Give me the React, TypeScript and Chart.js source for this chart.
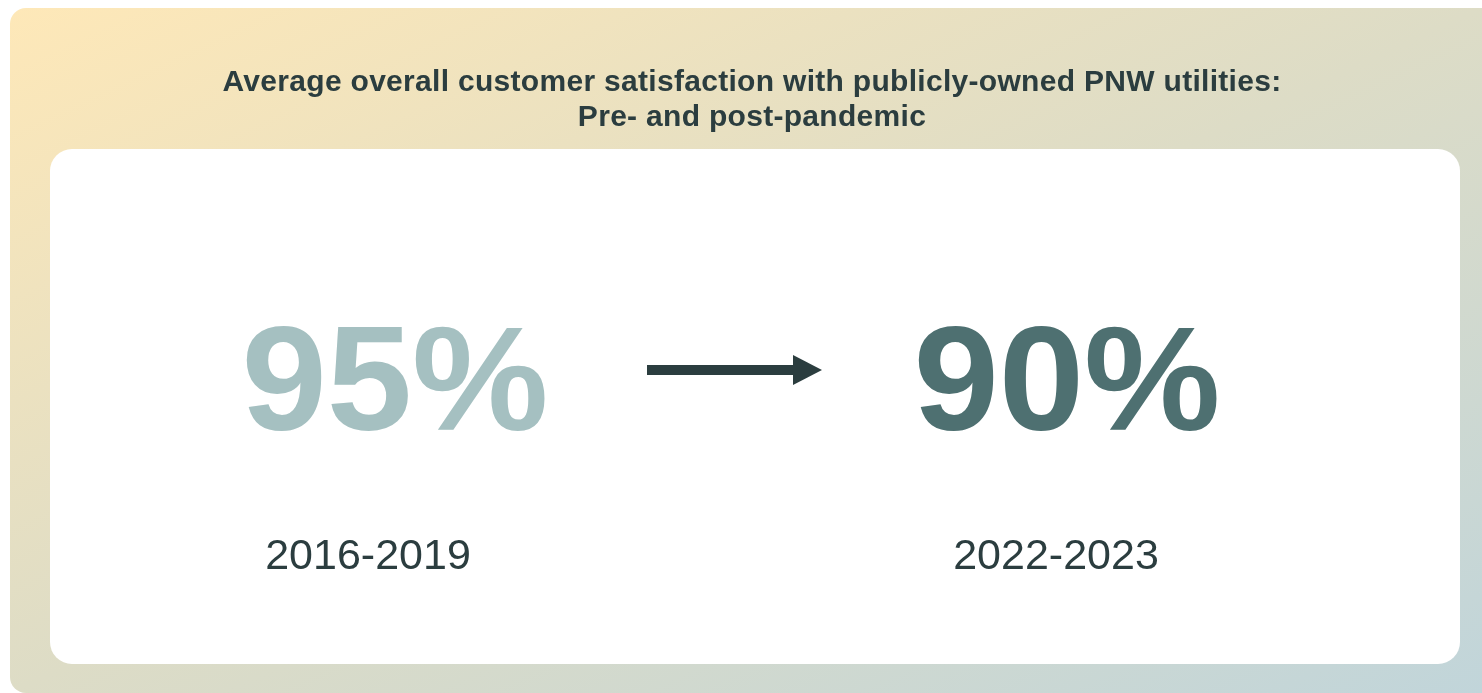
import React, { useEffect, useRef } from "react";
import { Chart, registerables } from "chart.js";

Chart.register(...registerables);

const periods: string[] = ["2016-2019", "2022-2023"];
const satisfaction: number[] = [95, 90];
const valueColors: string[] = ["#a5c0c1", "#4e7071"];
const titleLines: string[] = [
  "Average overall customer satisfaction with publicly-owned PNW utilities:",
  "Pre- and post-pandemic",
];

const W = 1482;
const H = 693;
const FONT = '"Liberation Sans", Arial, Helvetica, sans-serif';
const DARK = "#2b3d3f";

function roundRectPath(ctx: CanvasRenderingContext2D, x: number, y: number, w: number, h: number, r: number) {
  ctx.beginPath();
  ctx.moveTo(x + r, y);
  ctx.lineTo(x + w - r, y);
  ctx.arcTo(x + w, y, x + w, y + r, r);
  ctx.lineTo(x + w, y + h - r);
  ctx.arcTo(x + w, y + h, x + w - r, y + h, r);
  ctx.lineTo(x + r, y + h);
  ctx.arcTo(x, y + h, x, y + h - r, r);
  ctx.lineTo(x, y + r);
  ctx.arcTo(x, y, x + r, y, r);
  ctx.closePath();
}

const panelPlugin = {
  id: "panel",
  beforeDraw(chart: any) {
    const ctx: CanvasRenderingContext2D = chart.ctx;
    ctx.save();
    // "to bottom right" style gradient over the outer panel
    const bx = 10, by = 8, bw = 1472, bh = 685;
    const cx = bx + bw / 2, cy = by + bh / 2;
    const norm = Math.sqrt(bw * bw + bh * bh);
    const dx = bh / norm, dy = bw / norm;
    const L = (bw * bh) / norm;
    const g = ctx.createLinearGradient(cx - dx * L, cy - dy * L, cx + dx * L, cy + dy * L);
    g.addColorStop(0, "#fee8b8");
    g.addColorStop(0.5, "#dddcc6");
    g.addColorStop(1, "#c1d5da");
    ctx.fillStyle = g;
    roundRectPath(ctx, 10, 8, 1500, 685, 16);
    ctx.fill();
    ctx.fillStyle = "#ffffff";
    roundRectPath(ctx, 50, 149, 1410, 515, 22);
    ctx.fill();

    ctx.fillStyle = DARK;
    ctx.textAlign = "center";
    ctx.textBaseline = "alphabetic";
    ctx.font = `bold 30px ${FONT}`;
    (ctx as any).letterSpacing = "0.3px";
    ctx.fillText(titleLines[0], 752, 91);
    ctx.fillText(titleLines[1], 752, 126);
    (ctx as any).letterSpacing = "0px";
    ctx.restore();
  },
  afterDatasetsDraw(chart: any) {
    const ctx: CanvasRenderingContext2D = chart.ctx;
    const xs = chart.scales.x;
    const numOffsets = [27, 11];
    ctx.save();
    ctx.textAlign = "center";
    ctx.textBaseline = "alphabetic";
    const numX: number[] = [];
    satisfaction.forEach((v, i) => {
      const px = xs.getPixelForValue(i);
      const nx = px + numOffsets[i];
      numX.push(nx);
      ctx.save();
      ctx.translate(nx, 430);
      ctx.scale(1.037, 1);
      ctx.fillStyle = valueColors[i];
      ctx.font = `bold 148px ${FONT}`;
      ctx.fillText(`${v}%`, 0, 0);
      ctx.restore();
      ctx.fillStyle = DARK;
      ctx.font = `43px ${FONT}`;
      ctx.fillText(periods[i], px, 569);
    });
    // arrow
    const mid = (numX[0] + numX[1]) / 2 + 3;
    const x0 = mid - 87;
    const x1 = mid + 88;
    const headLen = 29;
    const cy = 370;
    ctx.fillStyle = DARK;
    ctx.fillRect(x0, cy - 5, x1 - headLen - x0 + 1, 10);
    ctx.beginPath();
    ctx.moveTo(x1 - headLen, cy - 15);
    ctx.lineTo(x1, cy);
    ctx.lineTo(x1 - headLen, cy + 15);
    ctx.closePath();
    ctx.fill();
    ctx.restore();
  },
};

export default function App() {
  const ref = useRef<HTMLCanvasElement | null>(null);
  useEffect(() => {
    if (!ref.current) return;
    const chart = new Chart(ref.current, {
      type: "scatter",
      data: {
        datasets: [
          {
            label: "Satisfaction",
            data: satisfaction.map((v, i) => ({ x: i, y: v })),
            pointRadius: 0,
            pointHoverRadius: 0,
          },
        ],
      },
      options: {
        animation: false,
        responsive: false,
        events: [],
        layout: { padding: { left: 24, right: 82, top: 150, bottom: 30 } },
        plugins: { legend: { display: false }, tooltip: { enabled: false }, title: { display: false } },
        scales: {
          x: { type: "linear", min: -0.5, max: 1.5, display: false },
          y: { min: 0, max: 100, display: false },
        },
      },
      plugins: [panelPlugin],
    });
    return () => chart.destroy();
  }, []);
  return (
    <div style={{ position: "absolute", left: 0, top: 0, width: W, height: H }}>
      <canvas ref={ref} width={W} height={H} style={{ display: "block", width: W, height: H }} />
    </div>
  );
}
